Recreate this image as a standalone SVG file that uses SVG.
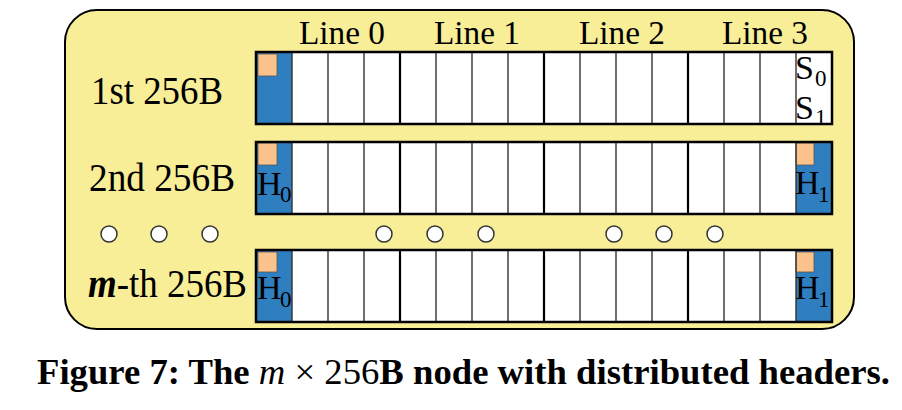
<svg xmlns="http://www.w3.org/2000/svg" width="902" height="410" viewBox="0 0 902 410">
<style>
  .serif { font-family: "Liberation Serif", "Times New Roman", serif; fill: #000; }
  .lbl { font-size: 39px; }
  .line { font-size: 34px; text-anchor: middle; }
  .big { font-size: 34px; }
  .sub { font-size: 23px; }
  .cellbg { fill: #ffffff; }
  .blue { fill: #2f7fc0; }
  .orange { fill: #fcc28c; stroke: #555; stroke-width: 0.8; }
  .thin { stroke: #333; stroke-width: 1.4; }
  .thick { stroke: #000; stroke-width: 2.2; }
  .border { fill: none; stroke: #000; stroke-width: 2.5; }
  .dot { fill: #ffffff; stroke: #333; stroke-width: 1.5; }
</style>
<defs>
  <g id="grid">
    <line class="thin" x1="292" y1="0" x2="292" y2="72"/>
    <line class="thin" x1="328" y1="0" x2="328" y2="72"/>
    <line class="thin" x1="364" y1="0" x2="364" y2="72"/>
    <line class="thick" x1="400" y1="0" x2="400" y2="72"/>
    <line class="thin" x1="436" y1="0" x2="436" y2="72"/>
    <line class="thin" x1="472" y1="0" x2="472" y2="72"/>
    <line class="thin" x1="508" y1="0" x2="508" y2="72"/>
    <line class="thick" x1="544" y1="0" x2="544" y2="72"/>
    <line class="thin" x1="580" y1="0" x2="580" y2="72"/>
    <line class="thin" x1="616" y1="0" x2="616" y2="72"/>
    <line class="thin" x1="652" y1="0" x2="652" y2="72"/>
    <line class="thick" x1="688" y1="0" x2="688" y2="72"/>
    <line class="thin" x1="724" y1="0" x2="724" y2="72"/>
    <line class="thin" x1="760" y1="0" x2="760" y2="72"/>
    <line class="thin" x1="796" y1="0" x2="796" y2="72"/>
  </g>
</defs>

<rect id="container" x="65" y="10" width="789" height="319" rx="32" ry="32" fill="#f8ee98" stroke="#000" stroke-width="2"/>

<g id="line-labels">
  <text class="serif line" x="342" y="44" textLength="86" lengthAdjust="spacingAndGlyphs">Line 0</text>
  <text class="serif line" x="477" y="44" textLength="86" lengthAdjust="spacingAndGlyphs">Line 1</text>
  <text class="serif line" x="622" y="44" textLength="86" lengthAdjust="spacingAndGlyphs">Line 2</text>
  <text class="serif line" x="765" y="44" textLength="86" lengthAdjust="spacingAndGlyphs">Line 3</text>
</g>

<g id="row1">
  <text class="serif lbl" x="91" y="104" textLength="132" lengthAdjust="spacingAndGlyphs">1st 256B</text>
  <g transform="translate(0,52)">
    <rect class="cellbg" x="256" y="0" width="576" height="72"/>
    <rect class="blue" x="256" y="0" width="36" height="72"/>
    <rect class="orange" x="258" y="2" width="19" height="22"/>
    <use href="#grid"/>
    <rect class="border" x="256" y="0" width="576" height="72"/>
  </g>
  <text class="serif big" x="795" y="79">S</text>
  <text class="serif sub" x="815" y="86">0</text>
  <text class="serif big" x="795" y="119">S</text>
  <text class="serif sub" x="815" y="125">1</text>
</g>

<g id="row2">
  <text class="serif lbl" x="89" y="191" textLength="146" lengthAdjust="spacingAndGlyphs">2nd 256B</text>
  <g transform="translate(0,142)">
    <rect class="cellbg" x="256" y="0" width="576" height="72"/>
    <rect class="blue" x="256" y="0" width="36" height="72"/>
    <rect class="blue" x="796" y="0" width="36" height="72"/>
    <rect class="orange" x="258" y="1" width="19" height="22"/>
    <rect class="orange" x="796" y="1" width="18" height="22"/>
    <use href="#grid"/>
    <rect class="border" x="256" y="0" width="576" height="72"/>
  </g>
  <text class="serif big" x="257" y="195">H</text>
  <text class="serif sub" x="280" y="202">0</text>
  <text class="serif big" x="795" y="194">H</text>
  <text class="serif sub" x="818" y="202">1</text>
</g>

<g id="ellipsis">
  <circle class="dot" cx="109" cy="234" r="8"/>
  <circle class="dot" cx="159" cy="234" r="8"/>
  <circle class="dot" cx="210" cy="234" r="8"/>
  <circle class="dot" cx="384" cy="234" r="8"/>
  <circle class="dot" cx="435" cy="234" r="8"/>
  <circle class="dot" cx="486" cy="234" r="8"/>
  <circle class="dot" cx="614" cy="234" r="8"/>
  <circle class="dot" cx="664" cy="234" r="8"/>
  <circle class="dot" cx="715" cy="234" r="8"/>
</g>

<g id="row3">
  <text class="serif lbl" x="88" y="297" textLength="159" lengthAdjust="spacingAndGlyphs"><tspan font-style="italic" font-weight="bold">m</tspan>-th 256B</text>
  <g transform="translate(0,250)">
    <rect class="cellbg" x="256" y="0" width="576" height="72"/>
    <rect class="blue" x="256" y="0" width="36" height="72"/>
    <rect class="blue" x="796" y="0" width="36" height="72"/>
    <rect class="orange" x="258" y="2" width="19" height="20"/>
    <rect class="orange" x="796" y="2" width="18" height="20"/>
    <use href="#grid"/>
    <rect class="border" x="256" y="0" width="576" height="72"/>
  </g>
  <text class="serif big" x="257" y="299">H</text>
  <text class="serif sub" x="280" y="307">0</text>
  <text class="serif big" x="795" y="299">H</text>
  <text class="serif sub" x="818" y="307">1</text>
</g>

<g id="caption">
  <text class="serif" x="37" y="384" font-size="36" font-weight="bold" textLength="853" lengthAdjust="spacingAndGlyphs">Figure 7: The <tspan font-style="italic" font-weight="normal">m</tspan><tspan font-weight="normal"> × 256</tspan>B node with distributed headers.</text>
</g>
</svg>
